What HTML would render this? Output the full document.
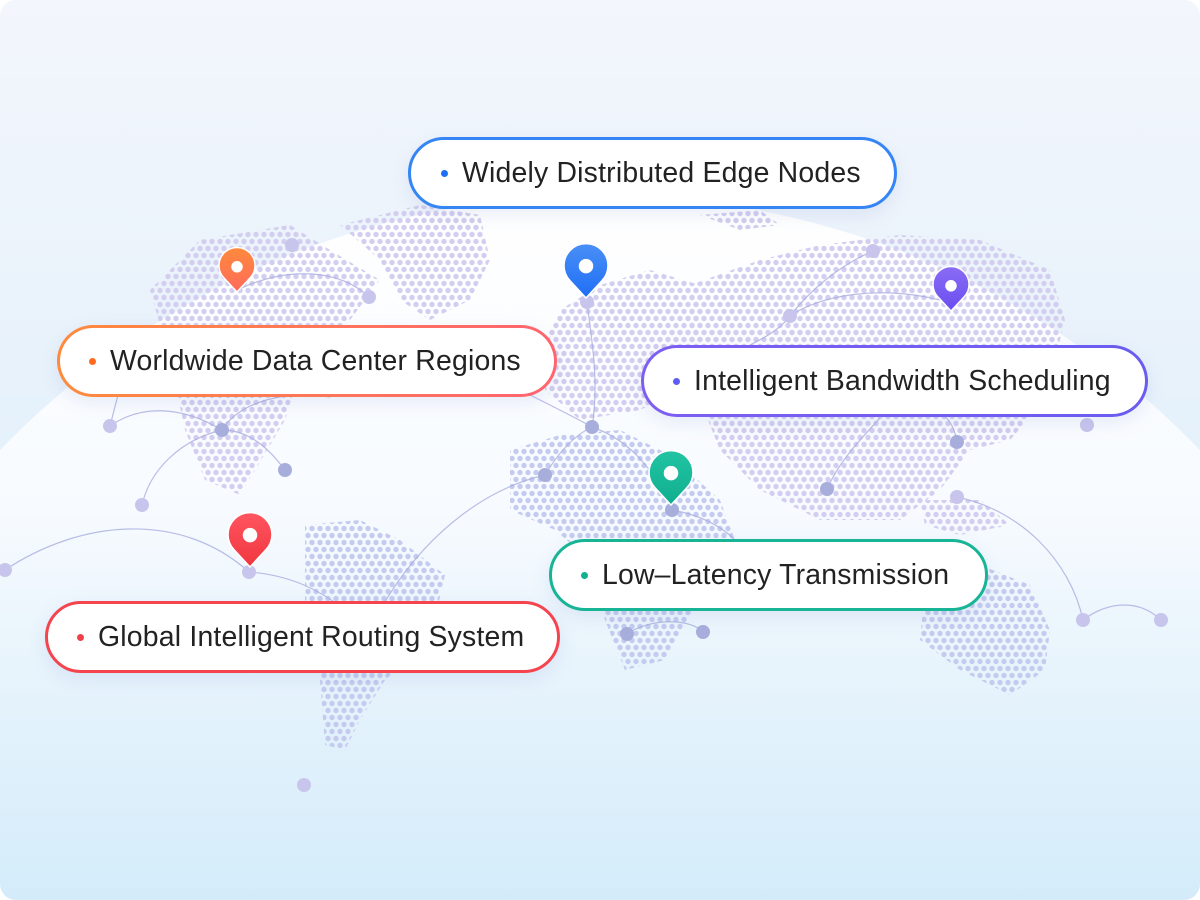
<!DOCTYPE html>
<html><head><meta charset="utf-8"><style>
html,body{margin:0;padding:0;width:1200px;height:900px;overflow:hidden}
body{font-family:"Liberation Sans",sans-serif}
.wrap{position:relative;width:1200px;height:900px;border-radius:16px;overflow:hidden;background:linear-gradient(180deg,#f3f6fc 0%,#e8f2fb 40%,#d4ecfa 100%)}
svg{position:absolute;left:0;top:0}
.pill{position:absolute;height:72px;border-radius:38px;background:#fff;box-sizing:border-box;display:flex;align-items:center;font-size:28.4px;color:#222;letter-spacing:0.2px;box-shadow:0 6px 18px rgba(120,140,200,0.15);white-space:nowrap;overflow:hidden}
.pill span.d{width:7px;height:7px;border-radius:50%;display:inline-block;margin:0 14px 0 0;flex:none}
</style></head><body><div class="wrap">
<svg width="1200" height="900" viewBox="0 0 1200 900">
<defs>
<linearGradient id="dome" x1="0" y1="195" x2="0" y2="900" gradientUnits="userSpaceOnUse">
<stop offset="0" stop-color="#ffffff" stop-opacity="1"/><stop offset="0.45" stop-color="#f8fbff" stop-opacity="0.95"/><stop offset="1" stop-color="#e4f3fc" stop-opacity="0"/></linearGradient>
<pattern id="hex" width="8" height="14" patternUnits="userSpaceOnUse">
<circle cx="4" cy="3.5" r="2.7" fill="#d3cdef"/><circle cx="0" cy="10.5" r="2.7" fill="#d3cdef"/><circle cx="8" cy="10.5" r="2.7" fill="#d3cdef"/></pattern>
<pattern id="hex2" width="8" height="14" patternUnits="userSpaceOnUse">
<circle cx="4" cy="3.5" r="2.7" fill="#c4cbef"/><circle cx="0" cy="10.5" r="2.7" fill="#c4cbef"/><circle cx="8" cy="10.5" r="2.7" fill="#c4cbef"/></pattern>
</defs>
<circle cx="600" cy="1028" r="833" fill="url(#dome)"/>
<g fill="url(#hex)">
<polygon points="150,290 200,240 290,225 330,250 380,280 350,320 330,340 300,370 285,420 255,470 240,495 205,480 185,430 170,360"/>
<polygon points="340,225 420,205 480,215 490,260 470,300 430,320 400,300 380,260"/>
<polygon points="560,310 600,285 650,270 700,285 700,340 680,390 640,410 580,420 545,390 545,340"/>
<polygon points="690,285 760,260 820,245 900,235 980,240 1050,270 1065,320 1045,400 1010,440 970,450 940,490 900,520 820,520 760,490 720,450 700,400 690,340"/>
<polygon points="700,215 760,210 780,225 740,230"/>
<polygon points="920,500 980,500 1010,525 960,535 925,525"/>
</g>
<g fill="url(#hex2)">
<polygon points="510,450 560,435 620,430 670,455 720,500 735,540 700,600 665,660 625,670 605,620 590,560 555,530 510,510"/>
<polygon points="305,525 360,520 400,540 445,575 430,640 385,680 360,720 345,750 325,745 320,680 305,600"/>
<polygon points="925,590 980,565 1030,585 1050,630 1045,670 1010,695 960,670 920,640"/>
</g>
<g fill="none" stroke="#a9aee0" stroke-width="1.2" opacity="0.8">
<path d="M5,570 C80,520 180,510 249,572"/>
<path d="M249,572 C290,575 320,590 345,610"/>
<path d="M380,610 C420,540 480,490 545,475"/>
<path d="M545,475 C560,450 575,435 592,427"/>
<path d="M592,427 C600,380 590,330 587,302"/>
<path d="M530,395 C560,410 580,420 592,427"/>
<path d="M592,427 C630,440 655,470 672,510"/>
<path d="M672,510 C700,515 720,525 735,540"/>
<path d="M110,426 C140,405 180,405 222,430"/>
<path d="M222,430 C250,430 270,450 285,470"/>
<path d="M142,505 C150,470 180,440 222,430"/>
<path d="M222,430 C240,400 290,390 330,397"/>
<path d="M237,290 C290,265 340,270 369,297"/>
<path d="M110,426 L118,395"/>
<path d="M627,634 C650,618 690,618 703,632"/>
<path d="M827,489 C840,460 860,440 880,418"/>
<path d="M790,316 C820,295 880,285 940,300"/>
<path d="M790,316 C780,330 760,340 750,345"/>
<path d="M957,497 C1020,510 1070,560 1083,620"/>
<path d="M1083,620 C1110,600 1140,600 1161,620"/>
<path d="M957,442 C955,430 950,420 945,417"/>
<path d="M873,251 C840,265 810,290 790,316"/>
</g>
<g fill="#c8c5ec">
<circle cx="369" cy="297" r="7"/><circle cx="587" cy="302" r="7"/><circle cx="110" cy="426" r="7"/><circle cx="142" cy="505" r="7"/><circle cx="249" cy="572" r="7"/><circle cx="5" cy="570" r="7"/><circle cx="1083" cy="620" r="7"/><circle cx="1161" cy="620" r="7"/><circle cx="1087" cy="425" r="7"/><circle cx="873" cy="251" r="7"/><circle cx="304" cy="785" r="7"/><circle cx="957" cy="497" r="7"/><circle cx="790" cy="316" r="7"/><circle cx="292" cy="245" r="7"/>
</g>
<g fill="#a7aedc">
<circle cx="222" cy="430" r="7"/><circle cx="285" cy="470" r="7"/><circle cx="545" cy="475" r="7"/><circle cx="592" cy="427" r="7"/><circle cx="672" cy="510" r="7"/><circle cx="627" cy="634" r="7"/><circle cx="703" cy="632" r="7"/><circle cx="827" cy="489" r="7"/><circle cx="957" cy="442" r="7"/>
</g>
<defs>
<linearGradient id="gO" x1="0" y1="0" x2="0" y2="1"><stop offset="0" stop-color="#ff8a3d"/><stop offset="1" stop-color="#ff6a5a"/></linearGradient>
<linearGradient id="gB" x1="0" y1="0" x2="0" y2="1"><stop offset="0" stop-color="#4a8ff7"/><stop offset="1" stop-color="#1f6ff5"/></linearGradient>
<linearGradient id="gP" x1="0" y1="0" x2="0" y2="1"><stop offset="0" stop-color="#8a6cf5"/><stop offset="1" stop-color="#6a4ef0"/></linearGradient>
<linearGradient id="gT" x1="0" y1="0" x2="0" y2="1"><stop offset="0" stop-color="#22c4a4"/><stop offset="1" stop-color="#0fae8e"/></linearGradient>
<linearGradient id="gR" x1="0" y1="0" x2="0" y2="1"><stop offset="0" stop-color="#ff5560"/><stop offset="1" stop-color="#f0363f"/></linearGradient>
</defs>
<g transform="translate(237,292) scale(18)"><path d="M0,0 L-0.72,-0.78 A1,1 0 1 1 0.72,-0.78 Z" fill="url(#gO)" stroke="#fff" stroke-width="0.08"/><circle cx="0" cy="-1.4" r="0.32" fill="#fff"/></g>
<g transform="translate(586,298) scale(22)"><path d="M0,0 L-0.72,-0.78 A1,1 0 1 1 0.72,-0.78 Z" fill="url(#gB)" stroke="#fff" stroke-width="0.07"/><circle cx="0" cy="-1.45" r="0.33" fill="#fff"/></g>
<g transform="translate(951,311) scale(18)"><path d="M0,0 L-0.72,-0.78 A1,1 0 1 1 0.72,-0.78 Z" fill="url(#gP)" stroke="#fff" stroke-width="0.08"/><circle cx="0" cy="-1.4" r="0.32" fill="#fff"/></g>
<g transform="translate(671,505) scale(22)"><path d="M0,0 L-0.72,-0.78 A1,1 0 1 1 0.72,-0.78 Z" fill="url(#gT)" stroke="#fff" stroke-width="0.07"/><circle cx="0" cy="-1.45" r="0.33" fill="#fff"/></g>
<g transform="translate(250,567) scale(22)"><path d="M0,0 L-0.72,-0.78 A1,1 0 1 1 0.72,-0.78 Z" fill="url(#gR)" stroke="#fff" stroke-width="0.07"/><circle cx="0" cy="-1.45" r="0.33" fill="#fff"/></g>
</svg>
<div class="pill" style="left:408px;top:137px;width:489px;border:3px solid #3585f5;padding-left:30px"><span class="d" style="background:#1f6ff5"></span>Widely Distributed Edge Nodes</div>
<div class="pill" style="left:57px;top:325px;width:500px;border:3px solid transparent;background:linear-gradient(#fff,#fff) padding-box,linear-gradient(90deg,#ff8a3d,#ff6470) border-box;padding-left:29px"><span class="d" style="background:#ff6a1f"></span>Worldwide Data Center Regions</div>
<div class="pill" style="left:641px;top:345px;width:507px;border:3px solid transparent;background:linear-gradient(#fff,#fff) padding-box,linear-gradient(90deg,#7e5ef2,#6a5cf0) border-box;padding-left:29px"><span class="d" style="background:#5b5ef0"></span>Intelligent Bandwidth Scheduling</div>
<div class="pill" style="left:549px;top:539px;width:439px;border:3px solid #17b495;padding-left:29px"><span class="d" style="background:#12b08f"></span>Low–Latency Transmission</div>
<div class="pill" style="left:45px;top:601px;width:515px;border:3px solid #f4454f;padding-left:29px"><span class="d" style="background:#f0404a"></span>Global Intelligent Routing System</div>
</div></body></html>
